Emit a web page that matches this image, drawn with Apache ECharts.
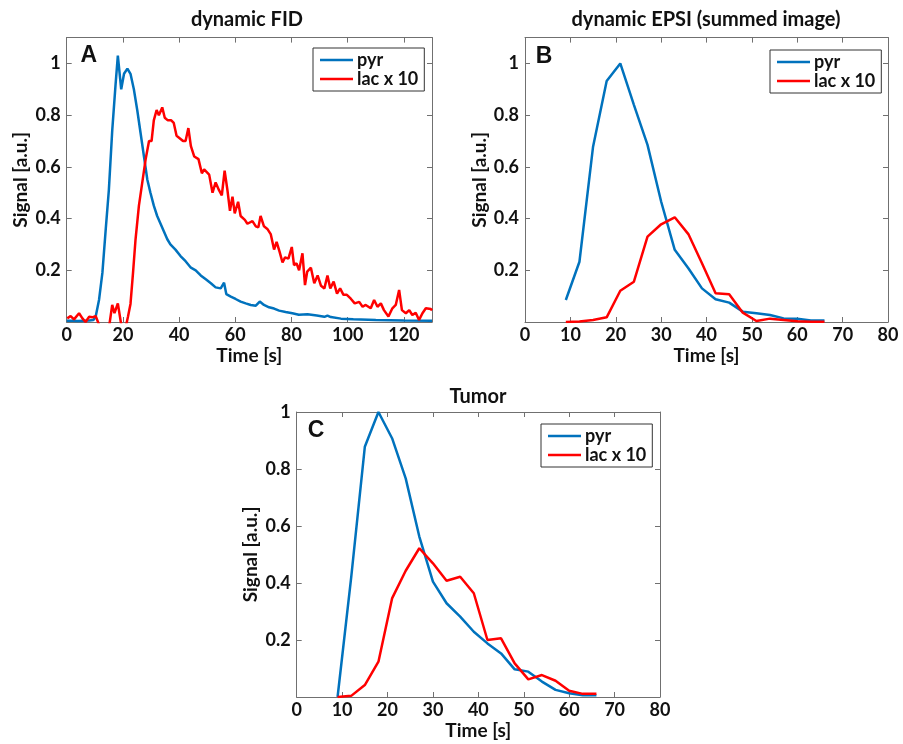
<!DOCTYPE html>
<html>
<head>
<meta charset="utf-8">
<script src="https://cdn.jsdelivr.net/npm/echarts@6/dist/echarts.min.js"></script>
<style>
html,body{margin:0;padding:0;background:#fff;}
#chart{width:903px;height:744px;}
</style>
</head>
<body>
<div id="chart"></div>
<script>
// ---------- Data ----------
// Panel A: dynamic FID (dense sampling)
const fidPyrTime = [0,2,4,6,8,9.5,10.3,11.5,12.7,13.9,15.0,16.2,17.4,18.2,19.4,20.4,21.6,22.7,23.9,25.1,26.3,27.5,28.7,29.8,31.0,32.2,33.4,34.6,35.8,36.9,38.7,40.5,42.3,44.2,45.9,47.7,49.5,51.3,53.0,54.8,56.0,56.8,58.4,60.1,61.9,63.7,65.5,67.3,68.7,70.2,72.0,73.8,75.6,77.9,80.3,82.6,85.7,89,91.7,92.8,94,97.6,102,110,120,130];
const fidPyrSignal = [0.005,0.005,0.004,0.005,0.006,0.008,0.02,0.085,0.19,0.36,0.51,0.74,0.92,1.03,0.90,0.96,0.98,0.96,0.90,0.82,0.73,0.64,0.55,0.50,0.45,0.41,0.38,0.35,0.32,0.30,0.28,0.255,0.235,0.21,0.20,0.18,0.165,0.15,0.134,0.13,0.152,0.108,0.098,0.089,0.079,0.072,0.066,0.063,0.079,0.066,0.057,0.052,0.044,0.039,0.034,0.028,0.03,0.025,0.02,0.025,0.019,0.013,0.011,0.008,0.006,0.005];
const fidLacTime = [0.2,1.4,2.6,4.4,5.6,6.7,8.0,9.1,10.3,11.5,12.6,14.0,15.2,16.2,17.0,18.2,19.4,20.4,21.3,21.8,22.7,23.6,24.5,25.7,26.9,28.1,29.3,30.2,31.0,32.0,32.8,34.0,34.9,36.0,37.2,38.1,39.1,40.3,41.4,42.3,43.3,44.2,45.4,46.9,48.1,48.9,50.7,51.9,53.0,54.2,55.2,56.2,57.2,58.1,59.0,59.8,61.0,61.9,63.4,64.3,66.1,67.3,68.2,69.0,70.2,71.4,72.6,73.8,74.7,75.8,76.8,77.7,78.9,80.1,80.9,81.8,82.7,83.9,84.8,85.6,86.9,88.1,89.3,90.5,91.7,92.8,93.8,95.0,96.2,97.3,98.5,99.7,101.1,102.5,104.1,105.3,106.4,108.2,109.4,110.6,111.8,112.9,114.5,115.9,117.1,118.3,119.3,120.7,121.9,123.0,124.2,125.4,126.6,127.8,129.6,130];
const fidLacSignal = [0.014,0.023,0.01,0.034,0.014,0.0,0.02,0.018,0.023,-0.01,-0.08,-0.08,-0.01,0.066,0.034,0.072,-0.01,-0.03,-0.005,0.02,0.07,0.19,0.32,0.45,0.54,0.63,0.70,0.70,0.78,0.82,0.80,0.83,0.79,0.78,0.78,0.77,0.72,0.71,0.70,0.70,0.75,0.68,0.64,0.63,0.575,0.59,0.57,0.50,0.54,0.51,0.49,0.585,0.51,0.43,0.485,0.42,0.465,0.41,0.395,0.38,0.39,0.37,0.366,0.41,0.37,0.36,0.34,0.28,0.31,0.27,0.23,0.25,0.245,0.29,0.22,0.227,0.20,0.266,0.143,0.195,0.21,0.15,0.18,0.14,0.13,0.18,0.13,0.156,0.11,0.13,0.105,0.105,0.09,0.072,0.078,0.059,0.066,0.053,0.085,0.059,0.072,0.046,0.021,0.053,0.066,0.124,0.046,0.034,0.046,0.027,0.036,0.008,0.034,0.053,0.05,0.045];

// Panel B: dynamic EPSI (summed image)
const epsiTime = [9,12,15,18,21,24,27,30,33,36,39,42,45,48,51,54,57,60,63,66];
const epsiPyr = [0.085,0.233,0.678,0.932,1.0,0.84,0.685,0.466,0.279,0.208,0.13,0.088,0.075,0.04,0.034,0.027,0.014,0.013,0.006,0.006];
const epsiLac = [0.0,0.002,0.008,0.018,0.121,0.156,0.33,0.378,0.405,0.34,0.227,0.111,0.107,0.036,0.004,0.013,0.008,0.003,0.001,0.001];

// Panel C: Tumor
const tumorTime = [9,12,15,18,21,24,27,30,33,36,39,42,45,48,51,54,57,60,63,66];
const tumorPyr = [0.0,0.42,0.878,1.0,0.908,0.767,0.563,0.405,0.329,0.282,0.229,0.188,0.153,0.097,0.089,0.054,0.025,0.013,0.006,0.006];
const tumorLac = [0.0,0.004,0.042,0.124,0.346,0.443,0.522,0.469,0.408,0.422,0.364,0.2,0.206,0.118,0.062,0.077,0.057,0.022,0.011,0.011];

const seriesNames = ['pyr', 'lac x 10'];
const panelTitles = ['dynamic FID', 'dynamic EPSI (summed image)', 'Tumor'];
const panelLetters = ['A', 'B', 'C'];
const xAxisTitle = 'Time [s]';
const yAxisTitle = 'Signal [a.u.]';

// ---------- Styling / layout ----------
const FONT = 'Lato';
const BLUE = '#0072BD';
const RED = '#FF0000';
const AXC = '#707070';

const grids = [
  {left: 66.7, top: 37.6, width: 365.3, height: 284.4},
  {left: 525, top: 37.6, width: 363, height: 284.4},
  {left: 296.7, top: 412, width: 363.3, height: 285}
];
const xRanges = [{max: 130, interval: 20}, {max: 80, interval: 10}, {max: 80, interval: 10}];
const yMax = [1.1, 1.1, 1.0];

function zip(t, v) { return t.map((x, i) => [x, v[i]]); }

const xAxes = [], yAxes = [];
grids.forEach((g, i) => {
  const common = {gridIndex: i, min: 0, max: xRanges[i].max, interval: xRanges[i].interval,
    axisLine: {show: true, onZero: false, lineStyle: {color: AXC, width: 1}},
    axisTick: {show: true, inside: true, length: 5, lineStyle: {color: AXC}},
    splitLine: {show: false}};
  xAxes.push(Object.assign({}, common, {type: 'value', position: 'bottom',
    name: xAxisTitle, nameLocation: 'middle', nameGap: 24,
    nameTextStyle: {fontFamily: FONT, fontWeight: 'bold', fontSize: 19, color: '#111'},
    axisLabel: {fontFamily: FONT, fontWeight: 'bold', fontSize: 18, color: '#111', margin: 4,
      formatter: v => (v > xRanges[i].max - 1e-6 && v % xRanges[i].interval !== 0) ? '' : String(v)}}));
  xAxes.push(Object.assign({}, common, {type: 'value', position: 'top', axisLabel: {show: false}}));
  const ycommon = {gridIndex: i, min: 0, max: yMax[i], interval: 0.2,
    axisLine: {show: true, onZero: false, lineStyle: {color: AXC, width: 1}},
    axisTick: {show: true, inside: true, length: 5, lineStyle: {color: AXC}},
    splitLine: {show: false}};
  yAxes.push(Object.assign({}, ycommon, {type: 'value', position: 'left',
    name: yAxisTitle, nameLocation: 'middle', nameGap: 36, nameRotate: 90,
    nameTextStyle: {fontFamily: FONT, fontWeight: 'bold', fontSize: 19, color: '#111'},
    axisLabel: {fontFamily: FONT, fontWeight: 'bold', fontSize: 18, color: '#111', margin: 6,
      formatter: v => (v < 0.01 || v > 1.01) ? '' : (Math.abs(v - 1) < 1e-6 ? '1' : v.toFixed(1))}}));
  yAxes.push(Object.assign({}, ycommon, {type: 'value', position: 'right', axisLabel: {show: false}}));
});

const panelData = [
  [zip(fidPyrTime, fidPyrSignal), zip(fidLacTime, fidLacSignal)],
  [zip(epsiTime, epsiPyr), zip(epsiTime, epsiLac)],
  [zip(tumorTime, tumorPyr), zip(tumorTime, tumorLac)]
];
const series = [];
panelData.forEach((pd, i) => {
  pd.forEach((d, k) => {
    series.push({type: 'line', name: seriesNames[k], xAxisIndex: 2 * i, yAxisIndex: 2 * i,
      data: d, symbol: 'none', showSymbol: false, clip: true, animation: false,
      lineStyle: {color: k === 0 ? BLUE : RED, width: 2.5},
      itemStyle: {color: k === 0 ? BLUE : RED}});
  });
});

const legendPos = [{left: 313, top: 48}, {left: 770, top: 50}, {left: 541, top: 424}];
const legends = legendPos.map(p => ({
  data: seriesNames, left: p.left, top: p.top, orient: 'vertical',
  icon: 'rect', itemWidth: 33, itemHeight: 2.5, itemGap: 1,
  padding: [3, 6, 3, 7], borderColor: '#333', borderWidth: 1, backgroundColor: '#fff',
  textStyle: {fontFamily: FONT, fontWeight: 'bold', fontSize: 18, color: '#111', lineHeight: 16, padding: [0, 0, 0, -1]},
  selectedMode: false
}));

const titlePos = [[247, 20], [706, 20], [478, 397]];
const letterPos = [[88.7, 56], [544, 57], [316, 431]];
const graphics = [];
titlePos.forEach((p, i) => graphics.push({type: 'text', x: p[0], y: p[1],
  style: {text: panelTitles[i], font: 'bold 20px ' + FONT, fill: '#111', textAlign: 'center', textVerticalAlign: 'middle'}}));
letterPos.forEach((p, i) => graphics.push({type: 'text', x: p[0], y: p[1],
  style: {text: panelLetters[i], font: 'bold 23px Liberation Sans', fill: '#111', textAlign: 'center', textVerticalAlign: 'middle'}}));

const chart = echarts.init(document.getElementById('chart'), null, {renderer: 'canvas'});
chart.setOption({
  animation: false,
  backgroundColor: '#fff',
  grid: grids,
  xAxis: xAxes,
  yAxis: yAxes,
  legend: legends,
  series: series,
  graphic: graphics
});
</script>
</body>
</html>
